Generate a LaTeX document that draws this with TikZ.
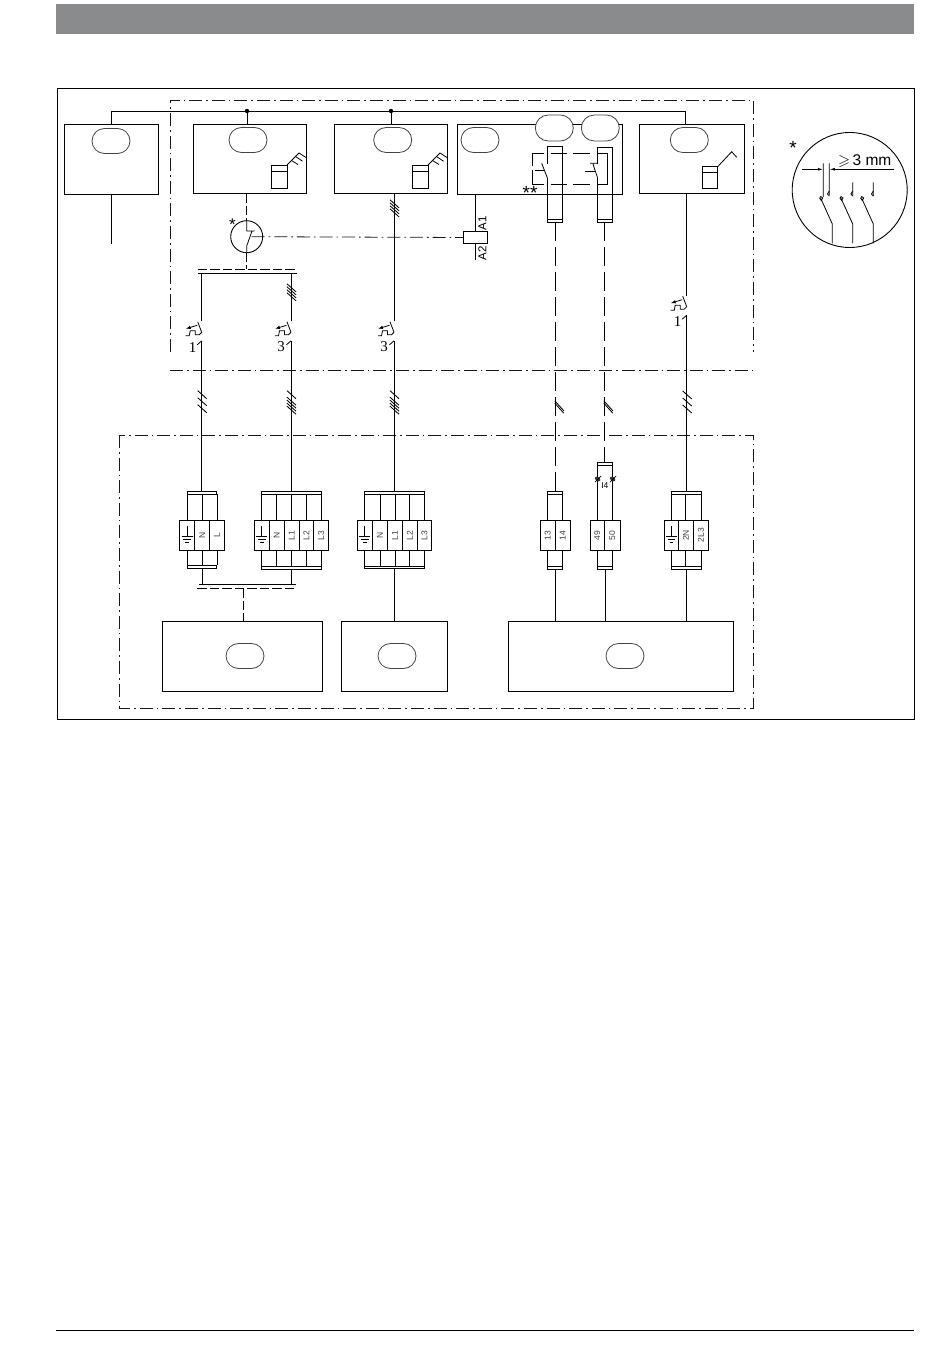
\documentclass[tikz,border=0pt]{standalone}
\usepackage{amssymb}
\usepackage{fontspec}
\setmainfont{Liberation Sans}
\newfontfamily\serifdig{Liberation Serif}
\usetikzlibrary{shapes.misc,arrows.meta,calc}
\definecolor{headgray}{HTML}{8A8B8D}
\definecolor{ovalgray}{HTML}{444444}
\tikzset{
  wire/.style={line width=0.9pt,draw=black},
  thin wire/.style={line width=0.8pt,draw=black},
  bxs/.style={draw=black,line width=0.9pt,fill=none,inner sep=0pt,outer sep=0pt},
  ovalshape/.style={draw=ovalgray,line width=0.8pt,rounded rectangle,inner sep=0pt,outer sep=0pt},
  cellbox/.style={draw=black,line width=0.9pt,inner sep=0pt,outer sep=0pt,font=\fontsize{8.5}{9}\selectfont,text=black!75},
  dashdot/.style={line width=0.8pt,draw=black!90,dash pattern=on 13pt off 4pt on 1.6pt off 4pt},
  longdash/.style={line width=0.9pt,draw=black,dash pattern=on 19pt off 6pt},
  shortdash/.style={line width=0.9pt,draw=black,dash pattern=on 9.5pt off 3pt},
  txt/.style={inner sep=0pt,outer sep=0pt},
}
\newcommand\bx[6][bxs]{%
  \pgfmathsetmacro\bxcx{(#3+#5)/2}\pgfmathsetmacro\bxcy{(#4+#6)/2}%
  \pgfmathsetmacro\bxw{#5-#3}\pgfmathsetmacro\bxh{#6-#4}%
  \node[#1,minimum width=\bxw pt,minimum height=\bxh pt] (#2) at (\bxcx,\bxcy) {};}
\newcommand\ovl[3]{\node[ovalshape,minimum width=38pt,minimum height=25pt] (#1) at (#2,#3) {};}
\newcommand\cellb[5][]{% name x1 x2 text
  \pgfmathsetmacro\bxcx{(#3+#4)/2}\pgfmathsetmacro\bxw{#4-#3}%
  \node[cellbox,minimum width=\bxw pt,minimum height=30pt] (#2) at (\bxcx,535.3) {\rotatebox{90}{#5}};}
\newcommand\grd[1]{%
  \draw[thin wire] ($(#1.center)+(0,-9)$) -- ($(#1.center)+(0,1.5)$)
    ($(#1.center)+(-5.5,1.5)$) -- ($(#1.center)+(5.5,1.5)$)
    ($(#1.center)+(-3.8,4.2)$) -- ($(#1.center)+(3.8,4.2)$)
    ($(#1.center)+(-1.8,7)$) -- ($(#1.center)+(1.8,7)$);}
\newcommand\stubs[3]{% cell, top bar, bottom bar
  \draw[wire] (#1.north) -- (#1.north |- #2.south) (#1.south) -- (#1.south |- #3.north);}
\newcommand\cb[5]{% name x y labeloffset label
  \coordinate (#1t) at (#2,#3-11);
  \coordinate (#1b) at (#2,#3+8.5);
  \begin{scope}[shift={(#2,#3)}]
    \draw[thin wire] (0,0) -- (-4,-10.5);
    \draw[thin wire,-{Latex[length=5pt,width=3.5pt]}] (-4.5,-7) -- (-16,-3.5);
    \draw[thin wire] (-16,3.5) -- (-12.5,3.5) -- (-11.5,-1.5) -- (-6.5,-1.5) -- (-6.5,2.5) -- (-2.5,2.5) -- (0,0);
    \draw[thin wire] (0,8.5) -- (-4.5,12.5);
    \node[txt,font=\serifdig\fontsize{15}{15}\selectfont] at (#4,14.8) {#5};
  \end{scope}}
\newcommand\hatch[3]{% x y list of dy
  \foreach \dy in {#3} \draw[line width=0.85pt,black] (#1-4,#2+\dy-4) -- (#1+5,#2+\dy+4);}
\newcommand\hatchr[3]{%
  \foreach \dy in {#3} \draw[line width=0.85pt,black] (#1-0.5,#2+\dy-5) -- (#1+8.5,#2+\dy+5);}
\newcommand\comb[2]{%
  \begin{scope}[shift={(#1,#2)}]
    \draw[thin wire] (0,0) -- (12,-12) -- (19,-7.5);
    \draw[thin wire] (8.5,-8.5) -- (15.5,-3.8);
    \draw[thin wire] (4.5,-4.5) -- (11,-0.5);
  \end{scope}}
\begin{document}
\begin{tikzpicture}[x=1pt,y=-1pt]
\useasboundingbox (0,0) rectangle (950,1370);
% page furniture
\fill[headgray] (56,4) rectangle (914,34);
\node[draw=black,line width=0.9pt,inner sep=0pt,minimum width=857pt,minimum height=631pt] (frame) at (485.5,403.5) {};
\coordinate (fl) at (56,1330); \coordinate (fr) at (914,1330);
\draw[line width=0.9pt,black] (fl) -- (fr);
% dash-dot regions
\draw[dashdot] (170,352) -- (170,100) -- (753,100) -- (753,352);
\draw[dashdot] (170,370.5) -- (753,370.5);
\draw[dashdot] (119,435) rectangle (753,708);
% top boxes
\bx{b1}{64}{124}{158}{194}
\bx{b2}{193.5}{124}{306.5}{193}
\bx{b3}{334.5}{124}{447.5}{193}
\bx{b4}{457.5}{124}{622.5}{194}
\bx{b5}{639.3}{124}{744.7}{193.7}
\ovl{o1}{111}{141}
\ovl{o2}{248}{140}
\ovl{o3}{392.7}{140}
\ovl{o4}{480}{140}
\node[ovalshape,fill=white,minimum width=38pt,minimum height=26pt] (o4a) at (554.3,128) {};
\node[ovalshape,fill=white,minimum width=38pt,minimum height=26pt] (o4b) at (600.3,128) {};
\ovl{o5}{689.3}{140}
% sensors
\bx{m2}{271}{165}{287}{188}
\bx{m3}{412}{165}{428}{188}
\bx{m5}{702.3}{166.7}{717.7}{188.3}
\draw[thin wire] (271,171) -- (287,171) (412,171) -- (428,171) (702.3,172.3) -- (717.7,172.3);
\comb{287}{165}
\comb{428}{165}
\draw[thin wire] (m5.north east) -- (731.7,151.7) -- (736.7,157.3);
% supply bus
\coordinate (busL) at (111,111);
\coordinate (busR) at (685.7,111);
\coordinate (d1) at (247,111);
\coordinate (d2) at (391,111);
\draw[wire] (b1.north -| busL) -- (busL) -- (busR) -- (b5.north -| busR);
\draw[wire] (d1) -- (b2.north -| d1) (d2) -- (b3.north -| d2);
\fill (d1) circle (2.2pt) (d2) circle (2.2pt);
\coordinate (b1end) at (111,244);
\draw[wire] (b1.south -| b1end) -- (b1end);
% RCD circle
\node[draw=black,line width=0.9pt,circle,inner sep=0pt,outer sep=0pt,minimum size=32pt] (rcd) at (246.7,236.7) {};
\draw[shortdash] (b2.south -| rcd) -- (rcd.north);
\draw[thin wire] (rcd.north) -- (246.7,231) -- (254.5,231) (252,231) -- (246.7,246) -- (rcd.south);
\node[txt,font=\fontsize{17}{17}\selectfont] (st1) at (232.5,225) {*};
% distribution bar
\coordinate (bu1) at (198,273.7); \coordinate (bu2) at (296.6,273.7);
\coordinate (bd1) at (197.7,269); \coordinate (bd2) at (296.7,269);
\draw[wire] (bu1) -- (bu2);
\draw[shortdash] (bd1) -- (bd2);
\draw[shortdash] (rcd.south) -- (rcd.south |- bd1);
% breakers
\cb{ca}{201.7}{332.3}{-9}{1}
\cb{cb}{291}{332.3}{-10}{3}
\cb{cc}{394}{332.3}{-10}{3}
\cb{cd}{686.7}{306.7}{-9}{1}
\draw[wire] (cat) -- (cat |- bu1) (cbt) -- (cbt |- bu1);
\draw[wire] (cct) -- (b3.south -| cct) (cdt) -- (b5.south -| cdt);
\hatch{291}{292.3}{-4.5,-1.5,1.5,4.5}
\hatch{394}{208.3}{-4.5,-1.5,1.5,4.5}
% contactor coil
\bx{coil}{463.3}{231.7}{487.3}{243.3}
\coordinate (coilT) at (475.3,231.7);
\draw[wire] (b4.south -| coilT) -- (coilT);
\coordinate (a2e) at (475.3,260);
\draw[thin wire] (coil.south -| a2e) -- (a2e);
\node[txt,rotate=90,font=\fontsize{11.5}{11.5}\selectfont] (a1) at (482.3,223.2) {A1};
\node[txt,rotate=90,font=\fontsize{11.5}{11.5}\selectfont] (a2) at (482.3,253) {A2};
\draw[dashdot] (rcd.center) ++(5,0) -- (coil.west);
\node[txt,font=\fontsize{19}{19}\selectfont] (st2) at (530,192.5) {**};
% contact pillars
\bx{pl}{547.3}{146.5}{562.7}{222}
\bx{pr}{597.5}{147.5}{612.5}{222}
\draw[wire] (547.3,219.3) -- (562.7,219.3) (597.5,219.3) -- (612.5,219.3);
\fill[white] (546,164) rectangle (549,178) (596,164) rectangle (599,178);
\draw[thin wire] (541.7,163.3) -- (547.5,178.3);
\draw[thin wire] (590,163.3) -- (597.5,163.3) (593,164) -- (597.7,178.3);
\draw[line width=0.9pt,black,dash pattern=on 10pt off 3pt] (535,170.7) -- (545,170.7) (584.5,171.7) -- (594.5,171.7);
\draw[line width=0.9pt,black]
  (544,153.3) -- (532.3,153.3) -- (532.3,166) (532.3,170) -- (532.3,184.3) -- (544,184.3)
  (551,153.3) -- (566.7,153.3) (573.3,153.3) -- (590,153.3) (597.7,153.3) -- (607.7,153.3) -- (607.7,184) -- (597.7,184)
  (551,184) -- (566.7,184) (573.3,184) -- (590,184);
% bottom boxes
\bx{u1}{162.5}{621.5}{322.5}{691}
\bx{u2}{341.5}{621.5}{447.5}{691}
\bx{u3}{508.5}{621.5}{733.5}{691}
\ovl{v1}{245}{656}
\ovl{v2}{397}{656}
\ovl{v3}{625}{656}
% terminal strip A
\bx{ta}{187.3}{491.7}{216.7}{494.3}
\bx{ba}{187.3}{565.3}{216.7}{568.7}
\cellb{a1c}{179.3}{194.7}{}
\cellb{a2c}{194.7}{209.7}{N}
\cellb{a3c}{209.7}{224.3}{L}
\grd{a1c}
\foreach \cl in {a1c,a2c,a3c} {\stubs{\cl}{ta}{ba}}
% terminal strip B
\bx{tb}{261.3}{491.7}{321.7}{494.3}
\bx{bb}{261.3}{566.7}{321.7}{569.7}
\cellb{b1c}{254.3}{269.3}{}
\cellb{b2c}{269.3}{284.3}{N}
\cellb{b3c}{284.3}{299.3}{L1}
\cellb{b4c}{299.3}{313.7}{L2}
\cellb{b5c}{313.7}{328.7}{L3}
\grd{b1c}
\foreach \cl in {b1c,b2c,b3c,b4c,b5c} {\stubs{\cl}{tb}{bb}}
% terminal strip C
\bx{tc}{364.3}{491.7}{424.3}{494.3}
\bx{bc}{364.3}{566.7}{424.3}{568.7}
\cellb{c1c}{357.3}{372.3}{}
\cellb{c2c}{372.3}{387.7}{N}
\cellb{c3c}{387.7}{402.3}{L1}
\cellb{c4c}{402.3}{417.3}{L2}
\cellb{c5c}{417.3}{431.7}{L3}
\grd{c1c}
\foreach \cl in {c1c,c2c,c3c,c4c,c5c} {\stubs{\cl}{tc}{bc}}
% terminal strip 13/14
\bx{td}{547.3}{491.7}{562.7}{494.7}
\bx{bd}{547.3}{566.7}{562.7}{569.7}
\cellb{d1c}{540.3}{555.3}{13}
\cellb{d2c}{555.3}{570.3}{14}
\foreach \cl in {d1c,d2c} {\stubs{\cl}{td}{bd}}
% terminal strip 49/50
\bx{te}{597.3}{462.3}{612.7}{465.7}
\bx{be}{597.3}{566.7}{612.7}{569.3}
\cellb{e1c}{590.3}{604.3}{49}
\cellb{e2c}{604.3}{620}{50}
\foreach \cl in {e1c,e2c} {\stubs{\cl}{te}{be}}
\foreach \sx in {597.7,612.7} {
  \fill[black!80,rotate around={-35:(\sx,479)}] (\sx,479) ellipse (3pt and 2pt);
  \draw[line width=0.7pt,black] (\sx-2.5,482) -- (\sx+3.5,476);}
\node[txt,font=\fontsize{8.5}{8.5}\selectfont] (i4) at (604.8,486) {I4};
% terminal strip F
\bx{tf}{671.3}{491.7}{701.7}{494.7}
\bx{bf}{671.3}{566.7}{701.7}{569.7}
\cellb{f1c}{664.3}{678.3}{}
\cellb{f2c}{678.3}{693.3}{2N}
\cellb{f3c}{693.3}{708.7}{2L3}
\grd{f1c}
\foreach \cl in {f1c,f2c,f3c} {\stubs{\cl}{tf}{bf}}
% field wires
\draw[wire] (cab) -- (ta.north -| cab) (cbb) -- (tb.north -| cbb) (ccb) -- (tc.north -| ccb) (cdb) -- (tf.north -| cdb);
\hatch{201.7}{400.7}{-6,1,8}
\hatch{291}{402.7}{-8,-1.5,1.5,4.5,7.5}
\hatch{394}{402.7}{-8,-1.5,1.5,4.5,7.5}
\hatch{686.7}{401}{-6,1,8}
% control wires
\coordinate (kl) at (555.3,222); \coordinate (kr) at (604.3,222);
\draw[longdash] (kl) -- (td.north -| kl);
\draw[longdash] (kr) -- (te.north -| kr);
\hatchr{555.3}{407}{-1.2,1.2}
\hatchr{604.3}{407}{-1.2,1.2}
% outgoing wires
\coordinate (lb1) at (199,584.3); \coordinate (lb2) at (296,584.3);
\coordinate (ld1) at (197.3,588.3); \coordinate (ld2) at (296.7,588.3);
\coordinate (lx) at (243.3,588.3);
\draw[wire] (lb1) -- (lb2);
\draw[wire] (ba.south) -- (ba.south |- lb1) (bb.south) -- (bb.south |- lb1);
\draw[shortdash] (ld1) -- (ld2);
\draw[shortdash] (lx) -- (u1.north -| lx);
\draw[wire] (bc.south) -- (u2.north -| bc.south);
\draw[wire] (bd.south) -- (u3.north -| bd.south);
\draw[wire] (be.south) -- (u3.north -| be.south);
\draw[wire] (bf.south) -- (u3.north -| bf.south);
% detail circle
\node[draw=black,line width=0.9pt,circle,inner sep=0pt,outer sep=0pt,minimum size=115pt] (det) at (849.7,190) {};
\node[txt,font=\fontsize{19}{19}\selectfont] (st3) at (793,148) {*};
\node[txt,anchor=west,font=\fontsize{15.5}{15.5}\selectfont] (dim) at (838,161.5) {$\geqslant$\,3 mm};
\coordinate (dl) at (802.3,169.3); \coordinate (dr) at (894,169.3);
\coordinate (c1) at (823.3,169.3); \coordinate (c2) at (829.3,169.3);
\draw[thin wire,-{Latex[length=5.5pt,width=2.8pt]}] (dl) -- (c1);
\draw[thin wire,-{Latex[length=5.5pt,width=2.8pt]}] (dr) -- (c2);
\draw[thin wire] (823.3,163.3) -- (823.3,197) (829.3,163.3) -- (829.3,195)
  (852.7,182.3) -- (852.7,196) (873.3,182.3) -- (873.3,196)
  (820.7,198.3) -- (832.3,224) -- (832.3,243.3)
  (841,198.3) -- (852.7,224) -- (852.7,243.3)
  (861.7,198.3) -- (873.3,224) -- (873.3,243.3);
\foreach \hx in {829.3,852.7,873.3} \draw[thin wire] (\hx,191) -- (\hx-1.8,194) -- (\hx,196);
\foreach \hx in {820.7,841,861.7} \draw[thin wire] (\hx,196.5) -- (\hx+2,198) -- (\hx+0.6,200.5) -- (\hx-1,198.3) -- cycle;
\end{tikzpicture}
\end{document}
